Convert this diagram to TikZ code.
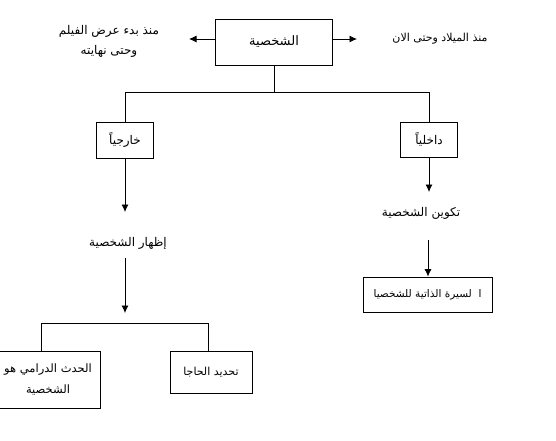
\documentclass[tikz,border=0pt]{standalone}
\usepackage{fontspec}
\usetikzlibrary{arrows.meta}
\newfontfamily\arabicfont[Script=Arabic]{DejaVu Sans}
\TeXXeTstate=1
\newcommand{\ar}[1]{\beginR #1\endR}
\newcommand{\fs}[1]{\fontsize{#1}{#1}\selectfont}
\begin{document}
\begin{tikzpicture}[x=1pt,y=-1pt,
  every node/.style={font=\arabicfont\fs{12}, inner sep=0pt},
  boxx/.style={draw, line width=0.8pt, minimum width=#1},
  lbl/.style={align=center},
  arr/.style={line width=0.8pt, -{Latex[length=7.5pt,width=7pt]}},
  ln/.style={line width=0.8pt}]
\useasboundingbox (0,0) rectangle (556,440);

\node[boxx=117, minimum height=46, font=\arabicfont\fs{13}] (top) at (274,42) {\ar{الشخصية}};
\node[lbl, font=\arabicfont\fontsize{12}{20}\selectfont] (ltxt) at (109,41) {\ar{منذ بدء عرض الفيلم}\\\ar{وحتى نهايته}};
\node[lbl, font=\arabicfont\fs{11}] (rtxt) at (440,39) {\ar{منذ الميلاد وحتى الان}};
\coordinate (la) at (189,39);
\coordinate (ra) at (357,39);
\draw[arr] (top.west |- la) -- (la);
\draw[arr] (top.east |- ra) -- (ra);

\node[boxx=57, minimum height=36] (kh) at (125,140) {\ar{خارجياً}};
\node[boxx=57, minimum height=35] (da) at (429,139.5) {\ar{داخلياً}};
\coordinate (hy) at (274,92);
\draw[ln] (top.south) -- (hy);
\draw[ln] (kh.north) -- (kh.north |- hy) -- (da.north |- hy) -- (da.north);

\node[lbl] (iz) at (128,243) {\ar{إظهار الشخصية}};
\node[lbl] (tk) at (421,213) {\ar{تكوين الشخصية}};
\coordinate (izt) at (125,212);
\coordinate (tkt) at (429,192);
\draw[arr] (kh.south) -- (izt);
\draw[arr] (da.south) -- (tkt);

\node[boxx=129, minimum height=35, font=\arabicfont\fs{10.5}] (sira) at (427.5,294.5) {\ar{ا\ \ لسيرة الذاتية للشخصيا}};
\coordinate (tks) at (428,240);
\draw[arr] (tks) -- (tks |- sira.north);

\coordinate (izs) at (125,258);
\coordinate (izb) at (125,313);
\draw[arr] (izs) -- (izb);

\node[boxx=82, minimum height=42, font=\arabicfont\fs{11}] (td) at (211,372) {\ar{تحديد الحاجا}};
\node[boxx=104, minimum height=57, lbl, font=\arabicfont\fontsize{11.5}{21}\selectfont] (hd) at (48,379.5) {\ar{الحدث الدرامي هو}\\\ar{الشخصية}};
\coordinate (bl) at (41,323);
\coordinate (br) at (208,323);
\draw[ln] (bl |- hd.north) -- (bl) -- (br) -- (br |- td.north);
\end{tikzpicture}
\end{document}
